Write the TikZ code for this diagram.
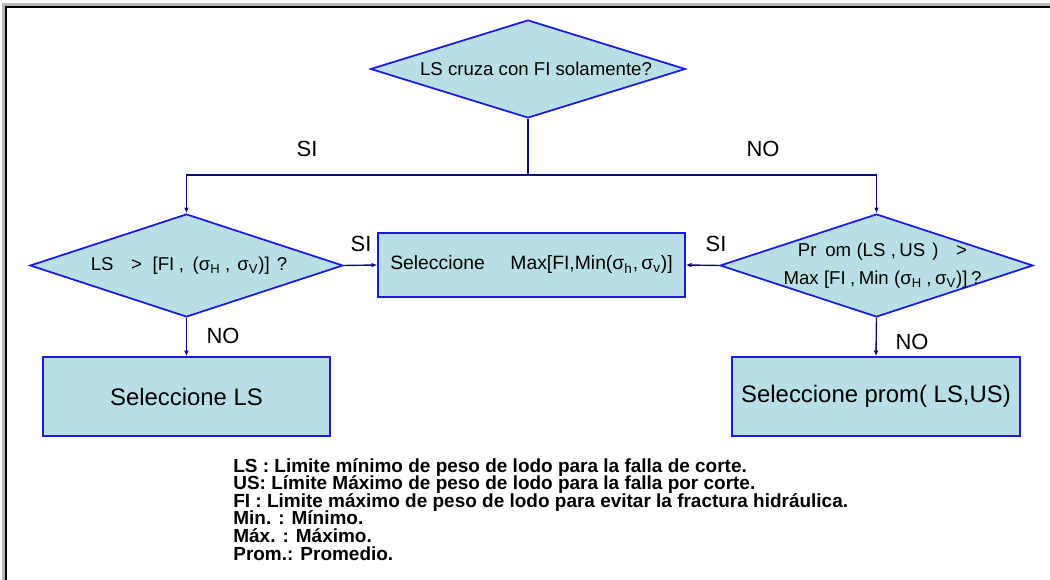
\documentclass[tikz,border=0pt]{standalone}
\usepackage{fontspec}
\setmainfont{Liberation Sans}
\usetikzlibrary{shapes.geometric, arrows.meta, positioning}

\definecolor{boxfill}{RGB}{184,223,228}
\definecolor{boxline}{RGB}{25,25,235}
\definecolor{linknavy}{RGB}{10,10,130}

\begin{document}
\begin{tikzpicture}[x=0.02cm, y=-0.02cm,
    decision/.style={diamond, draw=boxline, line width=1pt, fill=boxfill,
        inner sep=0pt, aspect=3.1, minimum width=6.26cm,
        minimum height=2.06cm, font=\fontsize{10.6}{12.6}\selectfont},
    action/.style={rectangle, draw=boxline, line width=1pt, fill=boxfill,
        inner sep=0pt, align=center},
    arrow/.style={-{Latex[length=3.2pt,width=2.8pt]}, draw=linknavy,
        line width=0.8pt},
    answer/.style={font=\fontsize{12.5}{14}\selectfont, inner sep=0pt}
]
\useasboundingbox (0,0) rectangle (1050,580);
% frame with shadow
\draw[gray!55, line width=1.6pt] (3.5,580) |- (1050,4.5);
\draw[black, line width=1.1pt] (6,580) |- (1050,7);
% first question
\node[decision, minimum width=6.3cm, minimum height=1.96cm] (quest)
    at (528,69) {\hspace*{0.32cm}LS cruza con FI solamente?};
\coordinate (split) at (528,175);
% second row
\node[decision] (askLS) at (186.5,265.5)
    {\hspace*{0.1cm}LS\hspace{10pt}>\hspace{6pt}[FI\hspace{2.5pt},\hspace{5pt}(σ\textsubscript{H}\hspace{2.5pt},\hspace{4pt}σ\textsubscript{V})]\hspace{4pt}?};
\node[decision, label={[align=center, font=\fontsize{10.6}{16}\selectfont,
        xshift=0.12cm]center:{Pr\hspace{5pt}om\hspace{3pt}(LS\hspace{3pt},\hspace{2pt}US\hspace{4pt})\hspace{10pt}>}\\
        {Max\hspace{3pt}[FI\hspace{2.5pt},\hspace{2pt}Min\hspace{3pt}(σ\textsubscript{H}\hspace{2.5pt},\hspace{2pt}σ\textsubscript{V})]\hspace{2pt}?}}]
    (askProm) at (876.5,265.5) {};
\node[action, minimum width=6.14cm, minimum height=1.28cm,
      font=\fontsize{11}{13}\selectfont] (selMax) at (531.5,265)
    {Seleccione\hspace{1.05em} Max[FI,Min(σ\textsubscript{h},\,σ\textsubscript{v})]};
% results
\node[action, minimum width=5.74cm, minimum height=1.58cm,
      font=\fontsize{13.6}{16}\selectfont] (selLS) at (186.5,396.5)
    {Seleccione LS};
\node[action, minimum width=5.76cm, minimum height=1.58cm,
      font=\fontsize{13.6}{16}\selectfont] (selProm) at (876,396.5)
    {Seleccione prom( LS,US)};
% arrows
\draw[arrow, -] (quest.south) -- (split);
\draw[arrow] (split) -| (askLS.north);
\draw[arrow] (split) -| (askProm.north);
\draw[arrow] (askLS.east) -- (selMax.west);
\draw[arrow] (askProm.west) -- (selMax.east);
\draw[arrow] (askLS.south) -- (selLS.north);
\draw[arrow] (askProm.south) -- (selProm.north);
% answers
\node[answer] (siLeft)  at (307,149) {SI};
\node[answer] (noRight) at (763,149) {NO};
\node[answer] (siMid)   at (361,244) {SI};
\node[answer] (siSide)  at (716,244) {SI};
\node[answer] (noLeft)  at (223,336) {NO};
\node[answer] (noSide)  at (912,342) {NO};
% legend
\node[anchor=north west, align=left, inner sep=0pt,
      font={\bfseries\fontsize{10.8}{10}\selectfont\setlength{\lineskiplimit}{-10pt}}]
    (legend) at (233,458)
    {LS : Limite mínimo de peso de lodo para la falla de corte.\\
     US: Límite Máximo de peso de lodo para la falla por corte.\\
     FI : Limite máximo de peso de lodo para evitar la fractura hidráulica.\\
     Min. : Mínimo.\\
     Máx. : Máximo.\\
     Prom.: Promedio.};
\end{tikzpicture}
\end{document}
